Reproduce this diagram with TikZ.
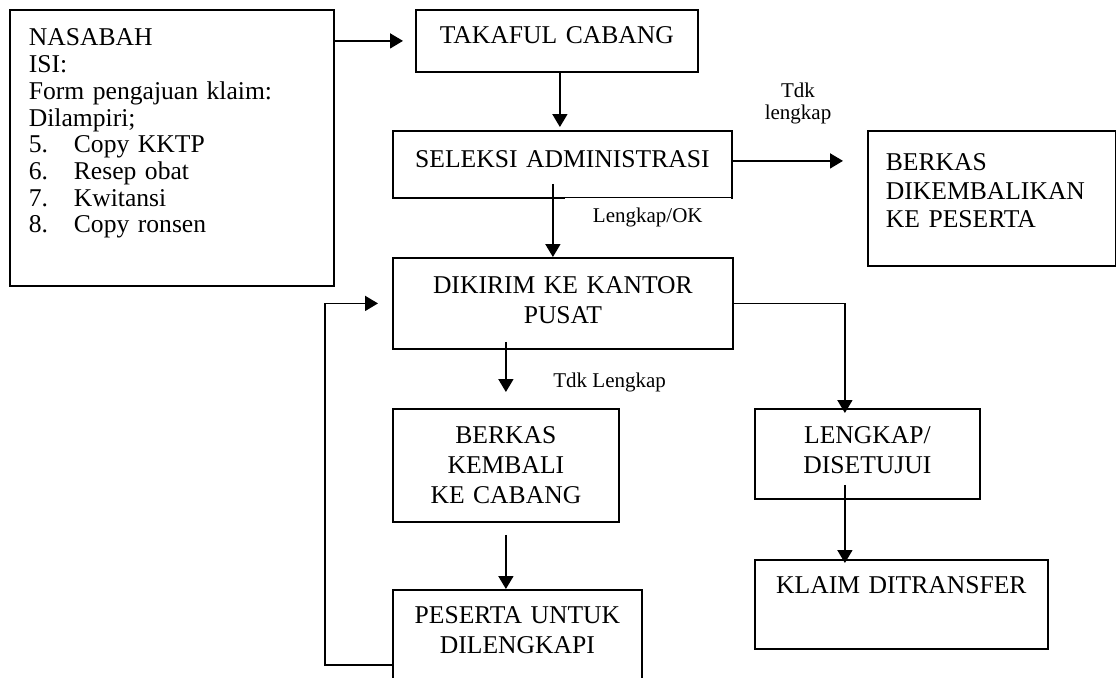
\documentclass[tikz,border=0pt]{standalone}
\usepackage{fontspec}
\setmainfont{Liberation Serif}
\usetikzlibrary{arrows.meta}
\tikzstyle{box} = [draw, line width=0.9pt, anchor=north west, inner xsep=0pt, inner ysep=0pt, align=center, font=\fontsize{12.8}{15}\selectfont]
\tikzstyle{lbl} = [inner sep=0pt, align=center, font=\fontsize{10.5}{11}\selectfont]
\tikzstyle{arr} = [line width=0.9pt, -{Triangle[length=6.5pt, width=7.5pt]}]

\begin{document}
\begin{tikzpicture}
    \useasboundingbox (0,0) rectangle (558pt,-338.5pt);

    \node[box, align=left, inner xsep=9.5pt, text width=143pt, text height=18pt, text depth=120pt,
          font=\fontsize{12.8}{13.35}\selectfont] (nas) at (4.5pt,-4.5pt) {
        NASABAH\\ ISI:\\ Form pengajuan klaim:\\ Dilampiri;\\
        \makebox[22.5pt][l]{5.}Copy KKTP\\
        \makebox[22.5pt][l]{6.}Resep obat\\
        \makebox[22.5pt][l]{7.}Kwitansi\\
        \makebox[22.5pt][l]{8.}Copy ronsen
    };
    \node[box, text width=141pt, text height=17pt, text depth=14pt] (tak) at (207.5pt,-4.5pt) {TAKAFUL CABANG};
    \node[box, text width=169.5pt, text height=18.5pt, text depth=15pt] (sel) at (196pt,-65pt) {SELEKSI ADMINISTRASI};
    \node[box, align=left, inner xsep=9pt, text width=106pt, text height=20pt, text depth=47.5pt,
          font=\fontsize{12.8}{14.25}\selectfont] (ber) at (433.5pt,-65pt) {
        BERKAS\\ DIKEMBALIKAN\\ KE PESERTA
    };
    \node[box, text width=170pt, text height=18pt, text depth=27.5pt] (dik) at (196pt,-128.5pt) {DIKIRIM KE KANTOR\\ PUSAT};
    \node[box, text width=113pt, text height=17.5pt, text depth=39pt] (kem) at (196pt,-204pt) {BERKAS\\ KEMBALI\\ KE CABANG};
    \node[box, text width=124.5pt, text height=17pt, text depth=43pt] (pes) at (196pt,-294.5pt) {PESERTA UNTUK\\ DILENGKAPI};
    \node[box, text width=112.5pt, text height=17.5pt, text depth=27.5pt] (len) at (377pt,-204pt) {LENGKAP/\\ DISETUJUI};
    \node[box, text width=146.5pt, text height=17pt, text depth=27.5pt] (kla) at (377pt,-279.5pt) {KLAIM DITRANSFER};

    % labels
    \node[lbl, fill=white, anchor=north west, minimum width=83pt, text height=12.2pt, text depth=3pt] (ok) at ([xshift=1pt,yshift=0.7pt]sel.south) {Lengkap/OK};
    \node[lbl, anchor=south] (tdk1) at (399pt,-62.3pt) {Tdk\\ lengkap};
    \node[lbl, anchor=base west] (tdk2) at (276.5pt,-193.5pt) {Tdk Lengkap};

    % arrows
    \draw[arr, shorten >=6pt] (nas.east |- tak.west) -- (tak.west);
    \draw[arr, shorten >=1.5pt] ([xshift=1.5pt]tak.south) -- ([xshift=1.5pt]tak.south |- sel.north);
    \draw[arr, shorten >=12pt] ([yshift=1.75pt]sel.east) -- ([yshift=1.75pt]sel.east -| ber.west);
    \draw[arr] ([xshift=-4.75pt,yshift=7.5pt]sel.south) -- ([xshift=-4.75pt]sel.south |- dik.north);
    \draw[arr, shorten >=8pt] ([yshift=4pt]dik.south -| kem.north) -- (kem.north);
    \draw[arr] ([yshift=-6pt]kem.south) -- (kem.south |- pes.north);
    \draw[arr, shorten >=7pt] ([yshift=-38pt]pes.north west) -- ++(-33.5pt,0) |- (dik.west);
    \draw[arr] (dik.east) -| ([xshift=-11.25pt,yshift=-2.5pt]len.north);
    \draw[arr] ([xshift=-11.25pt,yshift=7.5pt]len.south) -- ([xshift=-11.25pt,yshift=-2pt]len.south |- kla.north);

\end{tikzpicture}
\end{document}
